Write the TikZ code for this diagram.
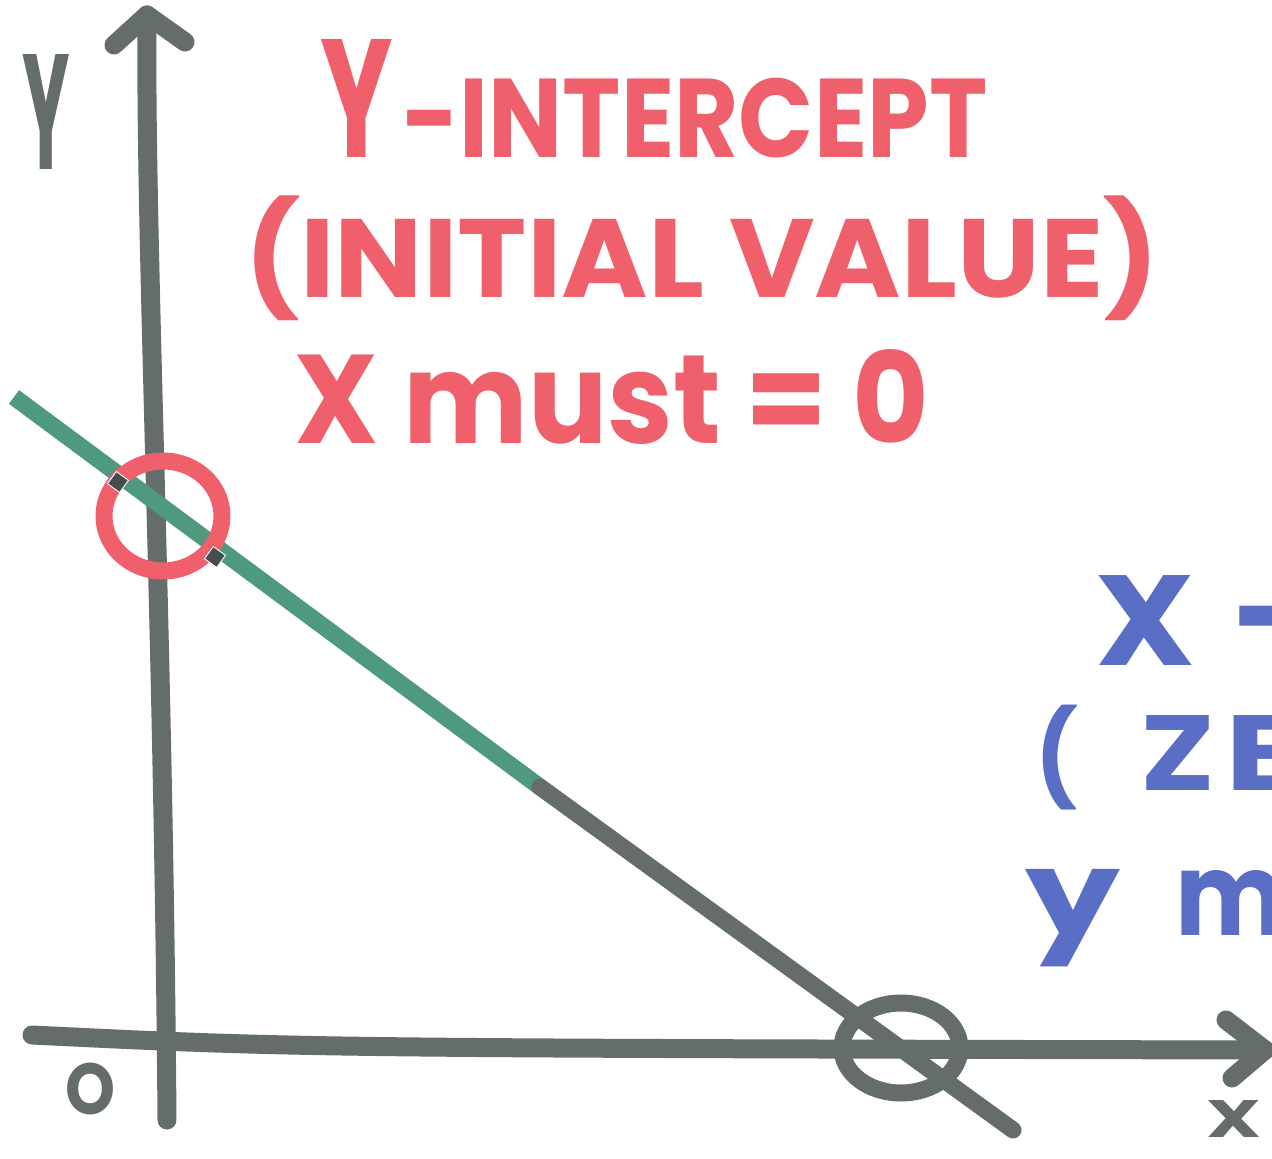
\documentclass[tikz,border=0pt]{standalone}
\usepackage{fontspec}
\usepackage{graphicx}
\setmainfont{Poppins}[BoldFont={* Bold}]
\definecolor{axisgray}{RGB}{101,108,108}
\definecolor{penred}{RGB}{240,96,108}
\definecolor{pengreen}{RGB}{79,154,126}
\definecolor{penblue}{RGB}{91,110,197}
\tikzset{
  pen/.style={line width=0.38cm, line cap=round, line join=round},
  thinpen/.style={line width=0.34cm, line cap=round, line join=round},
  redtext/.style={text=penred, inner sep=0pt, font=\bfseries},
  bluetext/.style={text=penblue, inner sep=0pt, font=\bfseries},
  graytext/.style={text=axisgray, inner sep=0pt, font=\bfseries},
  speck/.style={fill=axisgray!70!black, draw=white, line width=0.5pt, minimum size=0.3cm, inner sep=0pt, rotate=-36}
}
\begin{document}
\begin{tikzpicture}[x=0.02cm, y=-0.02cm]
\useasboundingbox (0,0) rectangle (1272,1159);
\clip (0,0) rectangle (1272,1159);
\fill[white] (0,0) rectangle (1272,1159);

% axes
\coordinate (ybot) at (167,1120);
\coordinate (ytop) at (147,15);
\coordinate (ywl) at (114,45);
\coordinate (ywr) at (185,42);
\draw[pen, axisgray] (ybot) .. controls (163,600) and (145,250) .. (ytop);
\draw[pen, axisgray] (ywl) -- (ytop) -- (ywr);

\coordinate (xleft) at (32,1035);
\coordinate (xright) at (1265,1050);
\coordinate (xwu) at (1226,1020);
\coordinate (xwd) at (1232,1078);
\draw[pen, axisgray] (xleft) .. controls (300,1048) .. (xright);
\draw[pen, axisgray] (xwu) -- (xright) -- (xwd);

% the line
\coordinate (lstart) at (14,397);
\coordinate (lmid) at (540,787);
\coordinate (lend) at (1013,1130);
\draw[thinpen, pengreen, line cap=butt] (lstart) -- (lmid);
\draw[thinpen, axisgray] (lmid) -- (lend);

% circles
\draw[thinpen, penred] (163,516) ellipse [x radius=59, y radius=55];
\draw[thinpen, axisgray] (901,1048) ellipse [x radius=59, y radius=45];
\node[speck] (s1) at (118,482) {};
\node[speck] (s2) at (215,557) {};

% axis labels
\node[graytext] (ylab) at (46,112) {\resizebox*{0.95cm}{2.3cm}{Y}};
\node[graytext] (olab) at (90,1089) {\resizebox*{1.0cm}{1.04cm}{O}};
\node[graytext, anchor=south] (xlab) at (1234,1138) {\resizebox*{1.1cm}{0.74cm}{X}};

% red text
\node[redtext, anchor=south west] (ybig) at (320,158) {\resizebox*{1.45cm}{2.36cm}{Y}};
\node[redtext, anchor=south west] (yint) at (402,158) {\resizebox*{11.7cm}{1.6cm}{-INTERCEPT}};
\node[redtext] (initial) at (702,258) {\resizebox*{18.3cm}{2.5cm}{(INITIAL VALUE)}};
\node[redtext] (xmust) at (612,397) {\resizebox*{12.7cm}{1.9cm}{X must = 0}};

% blue text (cut by the page edge, as in the reference)
\node[bluetext, anchor=base west] (xint) at (1095,665) {\resizebox*{2.0cm}{1.8cm}{X}\hspace{0.75cm}{\fontsize{80}{90}\selectfont -}};
\node[bluetext, anchor=base west] (zero) at (1035,790) {\resizebox*{0.85cm}{2.1cm}{(}\hspace{1.25cm}\resizebox*{1.5cm}{1.5cm}{Z}\hspace{0.2cm}\resizebox*{1.5cm}{1.5cm}{E}};
\node[bluetext, anchor=base west] (ymust) at (1025,935) {\resizebox*{1.9cm}{1.95cm}{y}\hspace{1.1cm}\resizebox*{2.2cm}{1.3cm}{m}};
\end{tikzpicture}
\end{document}
